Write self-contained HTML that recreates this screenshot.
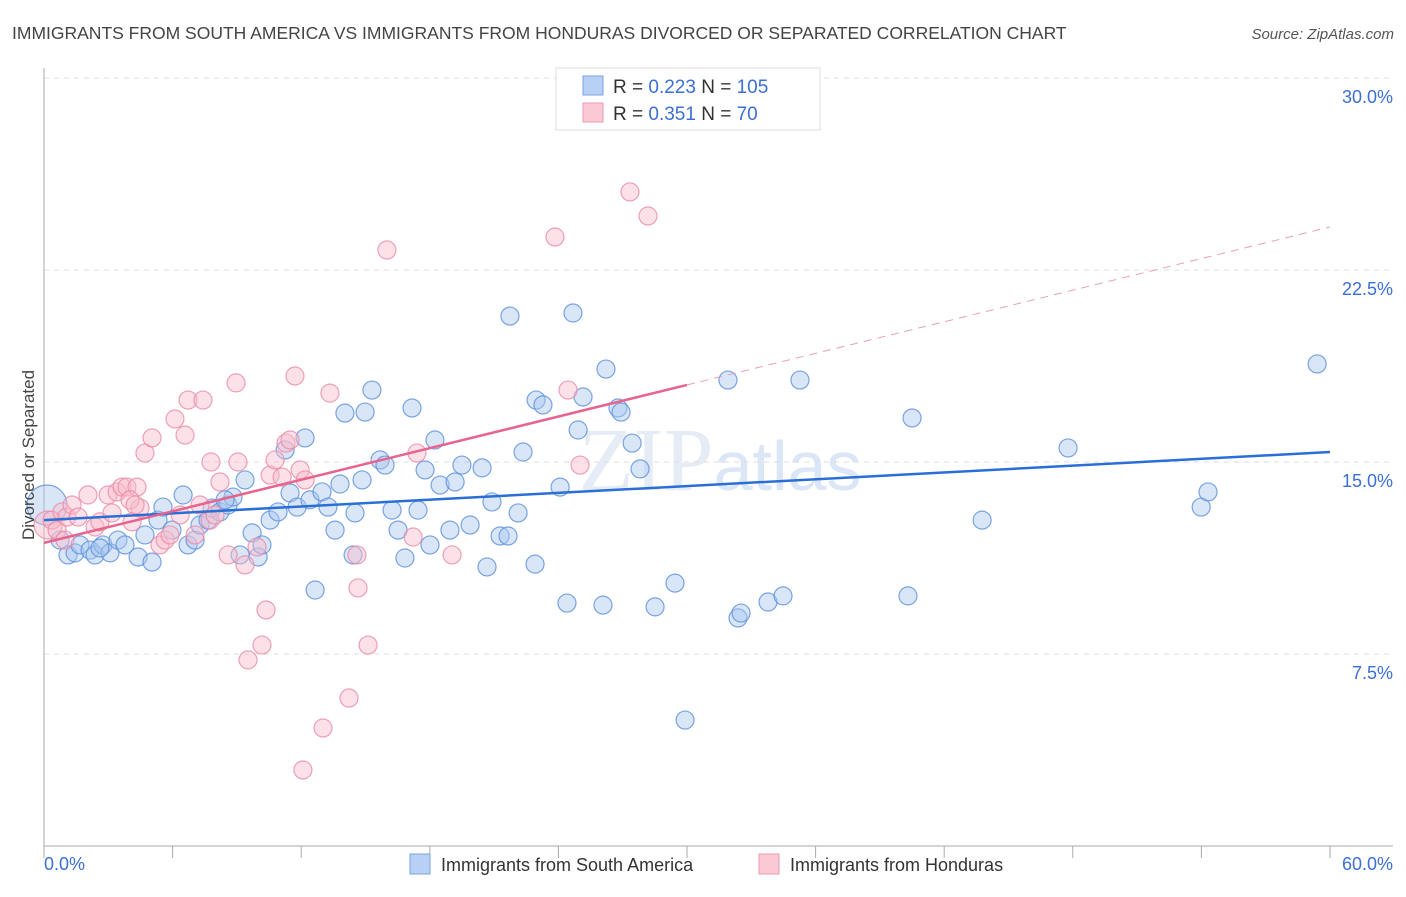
<!DOCTYPE html>
<html><head><meta charset="utf-8"><style>
body{margin:0;background:#fff;font-family:"Liberation Sans",sans-serif}
</style></head><body>
<svg id="chart" width="1406" height="892" xmlns="http://www.w3.org/2000/svg" font-family="Liberation Sans, sans-serif">
<text x="12" y="39" font-size="17.5" fill="#444">IMMIGRANTS FROM SOUTH AMERICA VS IMMIGRANTS FROM HONDURAS DIVORCED OR SEPARATED CORRELATION CHART</text>
<text x="1394" y="39" font-size="15" fill="#555" text-anchor="end" font-style="italic">Source: ZipAtlas.com</text>
<text x="720" y="490" font-size="90" fill="#e6ecf5" text-anchor="middle" font-family="Liberation Serif, serif">ZIP<tspan fill="#dbe6f6" font-family="Liberation Sans, sans-serif" font-size="70">atlas</tspan></text>
<g id="grid"></g><g id="axes"></g><g id="pts"></g><g id="trend"></g>
<text transform="translate(34,455) rotate(-90)" font-size="17" fill="#444" text-anchor="middle">Divorced or Separated</text>
<g>
<rect x="556" y="68" width="264" height="62" fill="#fff" stroke="#ddd"/>
<rect x="583" y="76" width="20" height="19" fill="#b7d0f3" stroke="#7aa3e5"/>
<rect x="583" y="103" width="20" height="19" fill="#fbc9d6" stroke="#ee9ab2"/>
<text x="613" y="93" font-size="19" fill="#333">R = <tspan fill="#3b6fd4">0.223</tspan>   N = <tspan fill="#3b6fd4">105</tspan></text>
<text x="613" y="120" font-size="19" fill="#333">R =  <tspan fill="#3b6fd4">0.351</tspan>   N =   <tspan fill="#3b6fd4">70</tspan></text>
</g>
<g>
<rect x="410" y="854" width="20" height="20" fill="#b7d0f3" stroke="#7aa3e5"/>
<text x="441" y="871" font-size="18" fill="#333">Immigrants from South America</text>
<rect x="759" y="854" width="20" height="20" fill="#fbc9d6" stroke="#ee9ab2"/>
<text x="790" y="871" font-size="18" fill="#333">Immigrants from Honduras</text>
</g>
</svg>
<script>
const blueX=[0.14,1.12,1.45,1.68,2.15,2.38,2.75,3.08,3.45,3.78,4.39,4.71,5.04,5.32,5.55,5.97,6.49,6.72,7.05,7.28,7.65,7.84,8.21,8.59,8.82,9.15,9.38,9.71,9.99,10.17,10.55,10.92,11.25,11.48,11.81,12.18,12.41,12.65,12.97,13.25,13.58,13.81,14.04,14.42,14.51,14.84,14.98,15.30,15.68,15.91,16.24,16.52,16.84,17.17,17.45,17.78,18.01,18.24,18.48,18.94,19.18,19.50,19.88,20.44,20.67,20.90,21.28,21.65,21.74,22.12,22.35,22.91,22.96,23.28,24.08,24.40,24.68,24.92,25.15,26.08,26.22,26.78,26.92,27.44,27.81,28.51,29.44,29.91,31.91,32.38,32.52,33.78,34.48,35.27,40.31,40.50,43.77,47.78,53.99,54.31,59.40,0.75,2.61,8.45];
const blueY=[13.32,11.37,11.45,11.76,11.56,11.37,11.76,11.45,11.95,11.76,11.29,12.15,11.09,12.73,13.24,12.34,13.71,11.76,11.95,12.54,12.73,13.20,13.05,13.32,13.63,11.37,14.30,12.23,11.29,11.76,12.73,13.05,15.47,13.79,13.24,15.94,13.52,10.0,13.83,13.24,12.34,14.14,16.91,11.37,13.01,14.30,16.95,17.81,15.08,14.88,13.12,12.34,11.25,17.11,13.12,14.69,11.76,15.86,14.10,12.34,14.22,14.88,12.54,14.77,10.90,13.44,12.11,12.11,20.70,13.01,15.39,11.01,17.42,17.23,14.02,9.49,20.82,16.25,17.54,9.41,18.63,17.11,16.95,15.74,14.73,9.34,10.27,4.92,18.20,8.91,9.10,9.53,9.77,18.20,9.77,16.72,12.73,15.55,13.24,13.83,18.83,11.95,11.64,13.52];
const pinkX=[0.19,0.37,0.61,0.84,1.07,1.31,1.59,2.05,2.38,2.61,2.99,3.17,3.41,3.64,3.87,4.11,4.34,4.48,4.71,5.04,5.41,5.65,5.88,6.11,6.35,6.58,6.72,7.42,7.75,7.79,8.21,8.59,8.96,9.05,9.38,9.52,9.94,10.17,10.36,10.55,11.11,11.29,11.71,11.95,12.08,13.02,13.34,14.23,14.60,14.65,15.12,16.00,17.22,17.40,19.04,23.84,24.45,25.01,27.34,28.18,7.28,7.98,0.98,4.01,11.48,12.18,10.78,4.25,7.05];
const pinkY=[12.54,12.73,12.34,13.05,12.85,13.32,12.85,13.71,12.46,12.66,13.71,13.01,13.83,14.02,14.02,12.66,14.02,13.20,15.35,15.94,11.76,11.95,12.15,16.68,12.93,16.05,17.42,17.42,12.73,15.0,14.22,11.37,18.09,15.0,10.98,7.27,11.68,7.85,9.22,14.49,14.41,15.74,18.36,14.69,2.97,4.61,17.69,5.78,11.37,10.08,7.85,23.28,12.07,15.35,11.37,23.79,17.81,14.88,25.55,24.61,13.32,12.93,11.95,13.52,15.86,14.30,15.08,13.32,12.15];
const blueTrend=[12.73,15.39];
const pinkTrend=[11.84,24.18];
const yTicks=[7.5,15,22.5,30];
const yTickLabels=["7.5%","15.0%","22.5%","30.0%"];
const xTickVals=[0,6,12,18,24,30,36,42,48,54,60];

const NS="http://www.w3.org/2000/svg";
const X=v=>44+v*(1330-44)/60;
const Y=v=>846-v*(768/30);
function mk(tag,attrs,parent){const e=document.createElementNS(NS,tag);for(const k in attrs)e.setAttribute(k,attrs[k]);document.getElementById(parent).appendChild(e);return e;}
yTicks.forEach((t,i)=>{
  const l=mk('line',{x1:44,x2:1393,y1:Y(t),y2:Y(t),stroke:'#ddd','stroke-dasharray':'5,5'},'grid');
  
  
  const tx=mk('text',{x:1393,y:Y(t)+25,'font-size':18,fill:'#3b6fd4','text-anchor':'end'},'grid');
  tx.textContent=yTickLabels[i];
  
  
});
const ax=mk('line',{x1:44,x2:44,y1:68,y2:846,stroke:'#aaa'},'axes');


const bx=mk('line',{x1:44,x2:1393,y1:846,y2:846,stroke:'#aaa'},'axes');


xTickVals.forEach(v=>{
  const t=mk('line',{x1:X(v),x2:X(v),y1:846,y2:858,stroke:'#aaa'},'axes');
  
  
});
const x0=mk('text',{x:44,y:870,'font-size':18,fill:'#3b6fd4'},'axes');x0.textContent=xTickVals[0].toFixed(1)+'%';


const x1=mk('text',{x:1393,y:870,'font-size':18,fill:'#3b6fd4','text-anchor':'end'},'axes');x1.textContent=xTickVals[xTickVals.length-1].toFixed(1)+'%';


function dots(xs,ys,fill,stroke,bigR){
  xs.forEach((v,i)=>{
    const c=mk('circle',{cx:X(v),cy:Y(ys[i]),r:i===0?bigR:9,fill:fill,'fill-opacity':0.45,stroke:stroke,'stroke-width':1.2,'stroke-opacity':0.8},'pts');
    
    
  });
}
dots(blueX,blueY,'#a9c8f0','#5b8fdc',20);
dots(pinkX,pinkY,'#f8bccb','#ea8aa6',14);
const bl=mk('line',{x1:X(0),y1:Y(blueTrend[0]),x2:X(60),y2:Y(blueTrend[1]),stroke:'#2a6fd6','stroke-width':2.5},'trend');


const pm=pinkTrend[0]+(pinkTrend[1]-pinkTrend[0])/2;
const pl=mk('line',{x1:X(0),y1:Y(pinkTrend[0]),x2:X(30),y2:Y(pm),stroke:'#e8638d','stroke-width':2.5},'trend');


const pd=mk('line',{x1:X(30),y1:Y(pm),x2:X(60),y2:Y(pinkTrend[1]),stroke:'#e8a0b5','stroke-width':1,'stroke-dasharray':'8,6'},'trend');


</script>
</body></html>
